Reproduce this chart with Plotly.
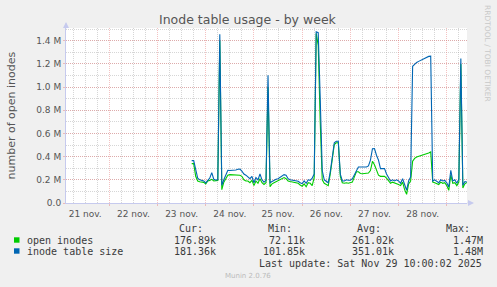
import pandas as pd
import plotly.graph_objects as go

# ---- data (values in thousands of inodes, hourly samples) ----
start_time = "2025-11-23 17:00"
n_points = 138
times = pd.date_range(start_time, periods=n_points, freq="h")

inode_table_size_k = [
    366, 366, 290, 215, 200, 196, 190, 173, 200, 215,
    262, 205, 198, 200, 1457, 153, 200, 245, 282, 280,
    282, 280, 285, 291, 292, 275, 250, 240,
    225, 210, 230, 175, 220, 200, 250, 200, 180, 196,
    1103, 175, 185, 196, 205, 210, 222, 235, 245, 240,
    210, 200, 196, 196, 193, 188, 175, 167, 190, 170,
    200, 196, 215, 250, 1477, 1470, 900, 280, 200, 185,
    175, 270, 397, 520, 533, 533, 250, 190, 190, 200,
    196, 196, 210, 240, 282, 310, 311, 311, 311, 311,
    320, 370, 469, 470, 412, 370, 297, 297, 297, 250,
    220, 190, 200, 190, 200, 190, 170, 210, 160, 110,
    190, 225, 1180, 1200, 1213, 1222, 1232, 1240, 1248, 1255,
    1265, 1267, 190, 200, 185, 175, 200, 190, 195, 175,
    138, 282, 190, 200, 170, 205, 1247, 153, 185, 181.36,
]
open_inodes_k = [
    340, 340, 230, 190, 183, 180, 178, 165, 190, 195,
    204, 190, 192, 195, 1400, 115, 180, 215, 239, 245,
    243, 245, 240, 239, 240, 230, 200, 190,
    190, 175, 195, 150, 190, 170, 210, 175, 160, 175,
    1000, 140, 165, 175, 185, 196, 200, 210, 219, 210,
    190, 185, 180, 178, 175, 170, 155, 145, 165, 140,
    175, 170, 150, 220, 1463, 1360, 700, 200, 170, 158,
    150, 250, 380, 505, 520, 520, 230, 175, 170, 175,
    170, 172, 180, 225, 270, 270, 255, 253, 253, 253,
    258, 280, 360, 330, 282, 240, 230, 230, 230, 215,
    195, 170, 180, 175, 170, 160, 150, 180, 115, 75,
    165, 190, 360, 385, 397, 402, 410, 415, 420, 428,
    432, 441, 181, 175, 165, 160, 180, 170, 175, 150,
    109, 240, 170, 175, 150, 180, 1200, 130, 165, 176.89,
]

series_names = ["open inodes", "inode table size"]
series_colors = ["#00CC00", "#0066B3"]
stat_headers = ["Cur:", "Min:", "Avg:", "Max:"]
stats = [
    ["176.89k", "72.11k", "261.02k", "1.47M"],
    ["181.36k", "101.85k", "351.01k", "1.48M"],
]
y_tick_vals = [0, 200000, 400000, 600000, 800000, 1000000, 1200000, 1400000]
y_tick_text = ["0.0", "0.2 M", "0.4 M", "0.6 M", "0.8 M", "1.0 M", "1.2 M", "1.4 M"]
x_range = ["2025-11-21 02:26", "2025-11-29 10:04"]
title = "Inode table usage - by week"
y_title = "number of open inodes"
last_update = "Last update: Sat Nov 29 10:00:02 2025"

# ---- geometry helpers (pixel -> paper) ----
W, H = 497, 287
L, R, T, B = 66, 30, 28, 84
PW, PH = W - L - R, H - T - B


def px(x):
    return (x - L) / PW


def py(y):
    return (H - B - y) / PH


fig = go.Figure()
for name, vals, col in zip(series_names, [open_inodes_k, inode_table_size_k], series_colors):
    fig.add_trace(go.Scatter(
        x=times, y=[v * 1000 for v in vals], mode="lines", name=name,
        line=dict(color=col, width=1.1), showlegend=False, hoverinfo="skip",
    ))

major_grid = "rgba(230,120,120,0.45)"
minor_grid = "rgba(165,165,165,0.45)"
axis_col = "#C6CAEE"

fig.update_layout(
    width=W, height=H,
    margin=dict(l=L, r=R, t=T, b=B, pad=0),
    paper_bgcolor="#F0F0F0", plot_bgcolor="#FFFFFF",
    font=dict(family="DejaVu Sans", size=9, color="#555555"),
    xaxis=dict(
        type="date", range=x_range, tick0="2025-11-21", dtick=86400000,
        ticklabelmode="period", tickformat="%d nov.",
        showgrid=True, gridcolor=major_grid, griddash="1px,1px", gridwidth=1,
        minor=dict(dtick=6 * 3600000, showgrid=True, gridcolor=minor_grid,
                   griddash="1px,1px", gridwidth=1),
        ticks="outside", ticklen=2, tickcolor=major_grid,
        showline=True, linecolor=axis_col, linewidth=1,
        zeroline=False, tickfont=dict(size=9, color="#555555"),
        fixedrange=True,
    ),
    yaxis=dict(
        range=[0, 1510000], tickmode="array", tickvals=y_tick_vals, ticktext=y_tick_text,
        showgrid=True, gridcolor=major_grid, griddash="1px,1px", gridwidth=1,
        minor=dict(tickmode="linear", tick0=0, dtick=100000, showgrid=True,
                   gridcolor=minor_grid, griddash="1px,1px", gridwidth=1),
        ticks="outside", ticklen=2, tickcolor=major_grid,
        showline=True, linecolor=axis_col, linewidth=1,
        zeroline=False, tickfont=dict(size=9, color="#555555"),
        fixedrange=True,
    ),
)

ann = []
# title
ann.append(dict(x=px(248), y=py(19), xref="paper", yref="paper", text=title,
                showarrow=False, xanchor="center", yanchor="middle",
                font=dict(size=12.5, color="#555555")))
# y axis title
ann.append(dict(x=px(11), y=py(115.5), xref="paper", yref="paper", text=y_title,
                showarrow=False, xanchor="center", yanchor="middle", textangle=-90,
                font=dict(size=11, color="#555555")))
# rrdtool credit
ann.append(dict(x=px(488), y=py(53), xref="paper", yref="paper",
                text="RRDTOOL / TOBI OETIKER", showarrow=False,
                xanchor="center", yanchor="middle", textangle=90,
                font=dict(size=7.5, color="#C8C8C8")))
# axis arrows
ann.append(dict(x=px(66), y=py(22), ax=0, ay=8, xref="paper", yref="paper",
                axref="pixel", ayref="pixel", text="", showarrow=True,
                arrowhead=2, arrowsize=1.2, arrowwidth=1, arrowcolor=axis_col))
ann.append(dict(x=px(474), y=py(203), ax=-8, ay=0, xref="paper", yref="paper",
                axref="pixel", ayref="pixel", text="", showarrow=True,
                arrowhead=2, arrowsize=1.2, arrowwidth=1, arrowcolor=axis_col))

mono = dict(family="DejaVu Sans Mono", size=10, color="#3A3A3A")
header_x = [203.5, 293, 381.5, 470.5]
value_right = [217, 305.5, 394.5, 483.5]
for hx, h in zip(header_x, stat_headers):
    ann.append(dict(x=px(hx), y=py(228.3), xref="paper", yref="paper", text=h,
                    showarrow=False, xanchor="right", yanchor="middle", font=mono, borderpad=0))
row_y = [240, 251]
shapes = []
for ry, name, col, row in zip(row_y, series_names, series_colors, stats):
    shapes.append(dict(type="rect", xref="paper", yref="paper",
                       x0=px(14), x1=px(19.5), y0=py(ry - 2.7), y1=py(ry + 2.7),
                       fillcolor=col, line=dict(width=0)))
    ann.append(dict(x=px(26), y=py(ry), xref="paper", yref="paper", text=name,
                    showarrow=False, xanchor="left", yanchor="middle", font=mono, borderpad=0))
    for vx, v in zip(value_right, row):
        ann.append(dict(x=px(vx), y=py(ry), xref="paper", yref="paper", text=v,
                        showarrow=False, xanchor="right", yanchor="middle", font=mono, borderpad=0))
ann.append(dict(x=px(483), y=py(263.3), xref="paper", yref="paper", text=last_update,
                showarrow=False, xanchor="right", yanchor="middle", font=mono, borderpad=0))
ann.append(dict(x=px(248), y=py(276), xref="paper", yref="paper", text="Munin 2.0.76",
                showarrow=False, xanchor="center", yanchor="middle",
                font=dict(family="DejaVu Sans", size=7, color="#BBBBBB")))

fig.update_layout(annotations=ann, shapes=shapes)
fig.write_html("out.html", config={"displayModeBar": False})
